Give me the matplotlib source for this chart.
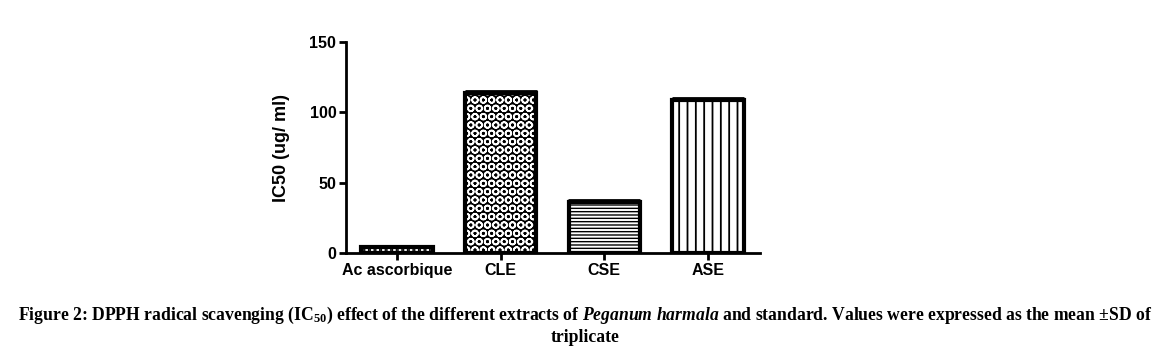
import matplotlib
matplotlib.use("Agg")
import matplotlib.pyplot as plt
import numpy as np

categories = ["Ac ascorbique", "CLE", "CSE", "ASE"]
ic50_values = [4.0, 114.0, 36.0, 109.0]
ic50_sd = [1.0, 1.2, 1.5, 1.0]
y_ticks = [0, 50, 100, 150]

plt.rcParams['mathtext.fontset'] = 'custom'
plt.rcParams['mathtext.rm'] = 'Liberation Serif:bold'
plt.rcParams['mathtext.it'] = 'Liberation Serif:bold:italic'
plt.rcParams['mathtext.bf'] = 'Liberation Serif:bold'

fig = plt.figure(figsize=(11.7, 3.54), dpi=100)
ax = fig.add_axes([346/1170, 101/354, (760-346)/1170, (253-42)/354])

x = np.arange(len(categories))
w = 0.69
hatches = ['...', None, '-----', '||']
hlw = [1.5, 1.2, 1.0, 1.3]
for i, (xi, v) in enumerate(zip(x, ic50_values)):
    with plt.rc_context({'hatch.linewidth': hlw[i]}):
        if i == 1:
            ax.bar(xi, v, width=w, color='black', edgecolor='white', hatch='OO', linewidth=0, zorder=2)
            ax.bar(xi, v, width=w, facecolor='none', edgecolor='black', linewidth=3, zorder=3)
        else:
            ax.bar(xi, v, width=w, color='white', edgecolor='black', hatch=hatches[i], linewidth=3, zorder=2)
ax.errorbar(x, ic50_values, yerr=[np.zeros(4), ic50_sd], fmt='none', ecolor='black',
            elinewidth=1.5, capsize=w*104/2*0.72, capthick=2, zorder=4)

ax.set_xlim(-0.49, 3.5)
ax.set_ylim(0, 150)
ax.set_yticks(y_ticks)
ax.set_xticks(x)
ax.set_xticklabels(categories)
for s in ['top', 'right']:
    ax.spines[s].set_visible(False)
for s in ['left', 'bottom']:
    ax.spines[s].set_linewidth(2)
ax.tick_params(axis='both', width=2, length=5, direction='out', labelsize=11.5, pad=2)
for lab in ax.get_xticklabels() + ax.get_yticklabels():
    lab.set_fontfamily('Liberation Sans')
    lab.set_fontweight('bold')
ax.set_ylabel("IC50 (ug/ ml)", fontsize=13, fontweight='bold', fontfamily='Liberation Sans', labelpad=14)

cap1 = (r"Figure 2: DPPH radical scavenging (IC$_{50}$) effect of the different extracts of "
        r"$\mathit{Peganum\ harmala}$ and standard. Values were expressed as the mean $\pm$SD of")
fig.text(0.5, 1 - 315/354, cap1, ha='center', va='center', fontsize=12.7,
         fontfamily='Liberation Serif', fontweight='bold')
fig.text(0.5, 1 - 337/354, "triplicate", ha='center', va='center', fontsize=12.7,
         fontfamily='Liberation Serif', fontweight='bold')

fig.savefig("out.png", dpi=100)
